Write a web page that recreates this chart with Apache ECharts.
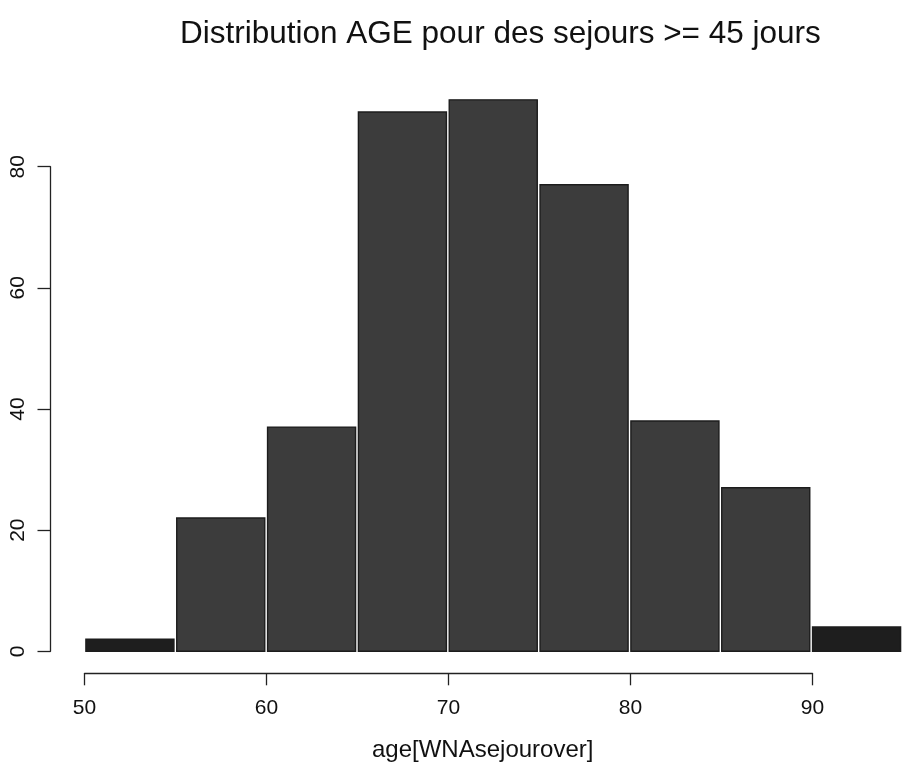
<!DOCTYPE html>
<html><head><meta charset="utf-8">
<script src="https://cdn.jsdelivr.net/npm/echarts@6/dist/echarts.min.js"></script>
<style>html,body{margin:0;padding:0;background:#fff}#c{width:902px;height:765px}</style>
</head><body><div id="c"></div>
<script>
const binStarts = [50, 55, 60, 65, 70, 75, 80, 85, 90];
const binWidth = 5;
const counts = [2, 22, 37, 89, 91, 77, 38, 27, 4];
const xTicks = [50, 60, 70, 80, 90];
const yTicks = [0, 20, 40, 60, 80];
const titleText = 'Distribution AGE pour des sejours >= 45 jours';
const xLabel = 'age[WNAsejourover]';

const FONT = '"Liberation Sans", Arial, sans-serif';
const histData = binStarts.map((s, i) => [s, s + binWidth, counts[i]]);

const chart = echarts.init(document.getElementById('c'), null, {renderer: 'canvas'});
chart.setOption({
  backgroundColor: '#ffffff',
  animation: false,
  title: [
    {text: titleText, left: 180, top: 18, padding: 0,
     textStyle: {fontFamily: FONT, fontSize: 31.5, fontWeight: 'normal', color: '#111'}},
    {text: xLabel, left: 372, top: 738, padding: 0,
     textStyle: {fontFamily: FONT, fontSize: 24, fontWeight: 'normal', color: '#111'}}
  ],
  grid: [
    {left: 84.5, top: 45.3, width: 819, height: 606, containLabel: false},
    {left: 84.5, top: 600, width: 728, height: 73.3, containLabel: false},
    {left: 50.5, top: 166.7, width: 30, height: 484.6, containLabel: false}
  ],
  xAxis: [
    {gridIndex: 0, type: 'value', min: 50, max: 95, show: false},
    {gridIndex: 1, type: 'value', min: xTicks[0], max: xTicks[xTicks.length - 1], interval: 10,
     axisLine: {show: true, lineStyle: {color: '#222', width: 1.3}},
     axisTick: {show: true, length: 12, lineStyle: {color: '#222', width: 1.3}},
     axisLabel: {margin: 24, fontFamily: FONT, fontSize: 21, color: '#111'},
     splitLine: {show: false}},
    {gridIndex: 2, type: 'value', min: 0, max: 1, show: false}
  ],
  yAxis: [
    {gridIndex: 0, type: 'value', min: 0, max: 100, show: false},
    {gridIndex: 1, type: 'value', min: 0, max: 1, show: false},
    {gridIndex: 2, type: 'value', min: yTicks[0], max: yTicks[yTicks.length - 1], interval: 20,
     axisLine: {show: true, lineStyle: {color: '#222', width: 1.3}},
     axisTick: {show: true, length: 13, lineStyle: {color: '#222', width: 1.3}},
     axisLabel: {margin: 22, rotate: 90, fontFamily: FONT, fontSize: 21, color: '#111'},
     splitLine: {show: false}}
  ],
  series: [{
    type: 'custom',
    xAxisIndex: 0, yAxisIndex: 0,
    clip: false,
    data: histData,
    renderItem: function (params, api) {
      const x0 = api.value(0), x1 = api.value(1), c = api.value(2);
      const pTop = api.coord([x0, c]);
      const pBot = api.coord([x1, 0]);
      const inset = 1.4;
      const h = pBot[1] - pTop[1];
      return {
        type: 'rect',
        shape: {x: pTop[0] + inset, y: pTop[1], width: pBot[0] - pTop[0] - 2 * inset, height: h},
        style: {fill: h < 30 ? '#1e1e1e' : '#3c3c3c', stroke: '#1c1c1c', lineWidth: 1.4}
      };
    }
  }]
});
</script>
</body></html>
